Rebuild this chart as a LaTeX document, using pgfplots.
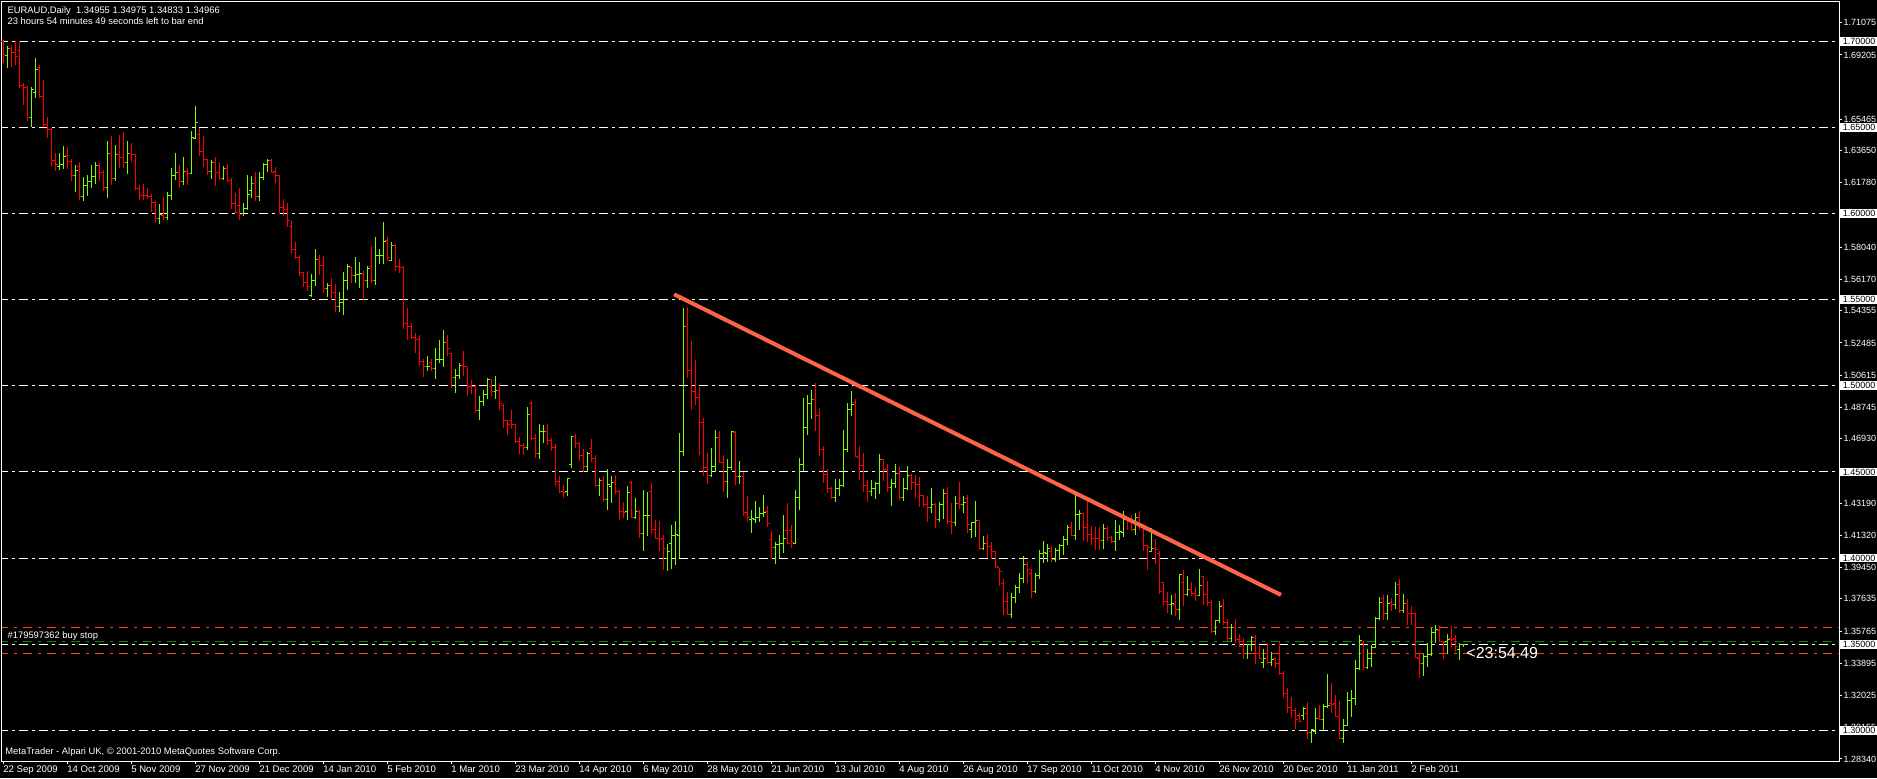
\documentclass[border=0pt]{standalone}
\usepackage{fontspec}
\setmainfont{Liberation Sans}
\usepackage{pgfplots}
\usepackage{pgfplotstable}
\pgfplotsset{compat=1.18}

\definecolor{mtgreen}{RGB}{124,252,0}
\definecolor{mtred}{RGB}{255,0,0}
\definecolor{mtorange}{RGB}{255,69,0}
\definecolor{mtdkgreen}{RGB}{0,140,0}
\definecolor{trend}{RGB}{255,99,71}

% open tick to the left, close tick to the right
\pgfdeclareplotmark{otick}{\pgfpathmoveto{\pgfqpoint{-1.1pt}{0pt}}\pgfpathlineto{\pgfqpoint{0pt}{0pt}}\pgfusepathqstroke}
\pgfdeclareplotmark{ctick}{\pgfpathmoveto{\pgfqpoint{0pt}{0pt}}\pgfpathlineto{\pgfqpoint{1.1pt}{0pt}}\pgfusepathqstroke}

\newcommand\smallfont{\fontsize{4.7}{5}\selectfont}

% EURAUD daily bars: index, open, high, low, close
\pgfplotstableread{
x o h l c
0 1.7000 1.7010 1.6874 1.6922
1 1.6918 1.6971 1.6845 1.6957
2 1.6957 1.6977 1.6851 1.6932
3 1.6932 1.7000 1.6864 1.6913
4 1.6946 1.7004 1.6729 1.6744
5 1.6744 1.6758 1.6632 1.6733
6 1.6733 1.6738 1.6539 1.6558
7 1.6558 1.6733 1.6500 1.6719
8 1.6703 1.6903 1.6670 1.6837
9 1.6849 1.6860 1.6670 1.6680
10 1.6680 1.6775 1.6500 1.6517
11 1.6517 1.6560 1.6438 1.6490
12 1.6490 1.6496 1.6277 1.6308
13 1.6308 1.6351 1.6248 1.6283
14 1.6273 1.6351 1.6254 1.6287
15 1.6287 1.6393 1.6260 1.6333
16 1.6337 1.6386 1.6258 1.6302
17 1.6302 1.6316 1.6190 1.6223
18 1.6223 1.6283 1.6124 1.6250
19 1.6273 1.6298 1.6079 1.6099
20 1.6099 1.6211 1.6074 1.6163
21 1.6163 1.6225 1.6103 1.6186
22 1.6186 1.6283 1.6147 1.6215
23 1.6215 1.6298 1.6170 1.6279
24 1.6279 1.6296 1.6190 1.6240
25 1.6240 1.6252 1.6132 1.6151
26 1.6151 1.6422 1.6089 1.6351
27 1.6351 1.6453 1.6163 1.6205
28 1.6201 1.6399 1.6186 1.6345
29 1.6345 1.6457 1.6264 1.6326
30 1.6326 1.6473 1.6264 1.6296
31 1.6296 1.6419 1.6231 1.6351
32 1.6351 1.6409 1.6302 1.6345
33 1.6345 1.6345 1.6138 1.6147
34 1.6147 1.6163 1.6079 1.6105
35 1.6105 1.6171 1.6079 1.6103
36 1.6105 1.6147 1.6085 1.6097
37 1.6097 1.6112 1.6008 1.6066
38 1.6066 1.6074 1.5953 1.5969
39 1.5969 1.6056 1.5940 1.5992
40 1.5986 1.6095 1.5963 1.5977
41 1.5977 1.6124 1.5963 1.6105
42 1.6105 1.6264 1.6079 1.6221
43 1.6221 1.6351 1.6196 1.6240
44 1.6240 1.6279 1.6147 1.6186
45 1.6186 1.6326 1.6163 1.6244
46 1.6244 1.6267 1.6167 1.6233
47 1.6233 1.6477 1.6231 1.6444
48 1.6438 1.6622 1.6434 1.6529
49 1.6461 1.6496 1.6335 1.6360
50 1.6360 1.6451 1.6269 1.6312
51 1.6312 1.6316 1.6225 1.6244
52 1.6244 1.6312 1.6201 1.6298
53 1.6298 1.6328 1.6161 1.6238
54 1.6238 1.6302 1.6196 1.6201
55 1.6201 1.6275 1.6192 1.6264
56 1.6264 1.6287 1.6182 1.6192
57 1.6192 1.6209 1.6025 1.6060
58 1.6060 1.6118 1.6002 1.6006
59 1.6047 1.6147 1.5963 1.5992
60 1.6002 1.6060 1.5983 1.6031
61 1.6031 1.6225 1.6021 1.6111
62 1.6136 1.6217 1.6091 1.6175
63 1.6175 1.6243 1.6074 1.6101
64 1.6097 1.6243 1.6074 1.6210
65 1.6210 1.6291 1.6194 1.6287
66 1.6287 1.6314 1.6243 1.6306
67 1.6306 1.6314 1.6233 1.6237
68 1.6243 1.6268 1.6179 1.6223
69 1.6223 1.6223 1.5995 1.6035
70 1.6035 1.6084 1.5987 1.6024
71 1.6024 1.6059 1.5923 1.5962
72 1.5923 1.5956 1.5768 1.5793
73 1.5793 1.5832 1.5739 1.5745
74 1.5745 1.5762 1.5639 1.5658
75 1.5658 1.5662 1.5575 1.5600
76 1.5600 1.5666 1.5549 1.5578
77 1.5526 1.5648 1.5516 1.5610
78 1.5610 1.5793 1.5580 1.5733
79 1.5733 1.5762 1.5642 1.5697
80 1.5697 1.5753 1.5536 1.5565
81 1.5565 1.5594 1.5516 1.5584
82 1.5584 1.5623 1.5497 1.5542
83 1.5542 1.5590 1.5426 1.5458
84 1.5458 1.5542 1.5426 1.5482
85 1.5482 1.5658 1.5410 1.5610
86 1.5610 1.5706 1.5555 1.5695
87 1.5687 1.5691 1.5594 1.5640
88 1.5640 1.5745 1.5594 1.5646
89 1.5646 1.5716 1.5565 1.5652
90 1.5648 1.5666 1.5497 1.5610
91 1.5610 1.5695 1.5569 1.5681
92 1.5691 1.5811 1.5598 1.5613
93 1.5613 1.5861 1.5588 1.5755
94 1.5755 1.5793 1.5706 1.5758
95 1.5755 1.5948 1.5706 1.5836
96 1.5842 1.5865 1.5726 1.5745
97 1.5729 1.5832 1.5726 1.5815
98 1.5815 1.5822 1.5667 1.5691
99 1.5691 1.5739 1.5652 1.5689
100 1.5689 1.5697 1.5329 1.5362
101 1.5362 1.5449 1.5265 1.5342
102 1.5342 1.5362 1.5271 1.5278
103 1.5278 1.5309 1.5191 1.5271
104 1.5271 1.5294 1.5114 1.5143
105 1.5143 1.5158 1.5052 1.5110
106 1.5110 1.5172 1.5087 1.5114
107 1.5133 1.5158 1.5087 1.5100
108 1.5100 1.5222 1.5042 1.5153
109 1.5153 1.5265 1.5133 1.5155
110 1.5155 1.5323 1.5110 1.5249
111 1.5249 1.5294 1.5174 1.5216
112 1.5187 1.5191 1.4988 1.5048
113 1.5048 1.5096 1.4959 1.5058
114 1.5058 1.5135 1.5042 1.5116
115 1.5116 1.5201 1.5056 1.5110
116 1.5110 1.5110 1.4940 1.4998
117 1.4998 1.5033 1.4955 1.4994
118 1.4994 1.5007 1.4843 1.4854
119 1.4854 1.4940 1.4800 1.4907
120 1.4907 1.4974 1.4881 1.4949
121 1.4949 1.5046 1.4922 1.5038
122 1.4994 1.5042 1.4940 1.4969
123 1.4969 1.5056 1.4922 1.4974
124 1.4974 1.5017 1.4858 1.4897
125 1.4886 1.4897 1.4756 1.4798
126 1.4798 1.4804 1.4717 1.4775
127 1.4798 1.4857 1.4752 1.4773
128 1.4773 1.4781 1.4669 1.4674
129 1.4674 1.4700 1.4607 1.4655
130 1.4655 1.4669 1.4597 1.4643
131 1.4643 1.4876 1.4626 1.4833
132 1.4897 1.4909 1.4688 1.4692
133 1.4692 1.4723 1.4580 1.4607
134 1.4607 1.4777 1.4578 1.4732
135 1.4732 1.4773 1.4669 1.4736
136 1.4732 1.4781 1.4655 1.4684
137 1.4684 1.4696 1.4620 1.4642
138 1.4642 1.4665 1.4417 1.4444
139 1.4444 1.4479 1.4378 1.4386
140 1.4386 1.4426 1.4349 1.4382
141 1.4386 1.4465 1.4362 1.4461
142 1.4546 1.4711 1.4521 1.4707
143 1.4707 1.4723 1.4639 1.4663
144 1.4663 1.4674 1.4562 1.4593
145 1.4593 1.4636 1.4500 1.4529
146 1.4529 1.4616 1.4500 1.4607
147 1.4634 1.4694 1.4556 1.4577
148 1.4577 1.4601 1.4413 1.4421
149 1.4421 1.4465 1.4362 1.4448
150 1.4448 1.4475 1.4324 1.4339
151 1.4339 1.4519 1.4277 1.4426
152 1.4417 1.4479 1.4320 1.4440
153 1.4440 1.4485 1.4374 1.4388
154 1.4388 1.4397 1.4219 1.4268
155 1.4268 1.4324 1.4233 1.4264
156 1.4268 1.4421 1.4223 1.4378
157 1.4440 1.4446 1.4231 1.4233
158 1.4233 1.4349 1.4227 1.4271
159 1.4271 1.4281 1.4116 1.4140
160 1.4140 1.4397 1.4040 1.4246
161 1.4246 1.4386 1.4126 1.4250
162 1.4386 1.4436 1.4141 1.4165
163 1.4165 1.4223 1.4111 1.4116
164 1.4116 1.4213 1.4040 1.4110
165 1.4116 1.4136 1.3930 1.4058
166 1.4000 1.4080 1.3925 1.4040
167 1.4087 1.4194 1.3935 1.4130
168 1.4130 1.4213 1.3960 1.4135
169 1.4130 1.4727 1.4000 1.4616
170 1.4616 1.5450 1.4591 1.5343
171 1.5343 1.5459 1.5043 1.5091
172 1.5091 1.5258 1.4859 1.4965
173 1.4965 1.5147 1.4891 1.4932
174 1.4932 1.4992 1.4597 1.4785
175 1.4785 1.4814 1.4475 1.4523
176 1.4523 1.4610 1.4432 1.4481
177 1.4481 1.4641 1.4471 1.4529
178 1.4529 1.4742 1.4498 1.4698
179 1.4698 1.4735 1.4552 1.4554
180 1.4554 1.4597 1.4382 1.4442
181 1.4442 1.4577 1.4347 1.4523
182 1.4523 1.4740 1.4514 1.4736
183 1.4727 1.4735 1.4423 1.4471
184 1.4471 1.4566 1.4430 1.4475
185 1.4475 1.4500 1.4242 1.4265
186 1.4265 1.4362 1.4207 1.4233
187 1.4226 1.4280 1.4148 1.4230
188 1.4226 1.4332 1.4206 1.4235
189 1.4235 1.4299 1.4212 1.4260
190 1.4260 1.4367 1.4241 1.4266
191 1.4270 1.4303 1.4179 1.4198
192 1.4109 1.4158 1.3999 1.4061
193 1.4061 1.4092 1.3964 1.4077
194 1.4077 1.4135 1.3999 1.4086
195 1.4086 1.4251 1.4032 1.4115
196 1.4158 1.4322 1.4080 1.4086
197 1.4160 1.4193 1.4057 1.4090
198 1.4086 1.4396 1.4080 1.4351
199 1.4351 1.4580 1.4280 1.4545
200 1.4545 1.4932 1.4508 1.4760
201 1.4760 1.4948 1.4712 1.4899
202 1.4899 1.4977 1.4806 1.4919
203 1.4923 1.5016 1.4735 1.4826
204 1.4826 1.4870 1.4590 1.4628
205 1.4628 1.4651 1.4435 1.4483
206 1.4483 1.4518 1.4380 1.4406
207 1.4406 1.4411 1.4342 1.4353
208 1.4353 1.4460 1.4328 1.4402
209 1.4402 1.4460 1.4363 1.4419
210 1.4419 1.4744 1.4415 1.4632
211 1.4632 1.4903 1.4618 1.4861
212 1.4861 1.4971 1.4822 1.4890
213 1.4903 1.4923 1.4586 1.4590
214 1.4586 1.4648 1.4454 1.4539
215 1.4539 1.4609 1.4382 1.4423
216 1.4423 1.4454 1.4328 1.4386
217 1.4386 1.4454 1.4361 1.4404
218 1.4404 1.4439 1.4342 1.4431
219 1.4431 1.4605 1.4373 1.4574
220 1.4574 1.4576 1.4448 1.4516
221 1.4516 1.4545 1.4382 1.4411
222 1.4411 1.4460 1.4305 1.4435
223 1.4435 1.4545 1.4409 1.4489
224 1.4489 1.4526 1.4338 1.4353
225 1.4353 1.4464 1.4332 1.4402
226 1.4402 1.4535 1.4400 1.4477
227 1.4477 1.4487 1.4396 1.4439
228 1.4439 1.4483 1.4348 1.4429
229 1.4429 1.4473 1.4295 1.4361
230 1.4361 1.4367 1.4299 1.4309
231 1.4309 1.4361 1.4212 1.4293
232 1.4293 1.4409 1.4264 1.4309
233 1.4309 1.4322 1.4177 1.4222
234 1.4222 1.4328 1.4212 1.4309
235 1.4309 1.4402 1.4226 1.4373
236 1.4373 1.4411 1.4197 1.4212
237 1.4212 1.4322 1.4141 1.4206
238 1.4206 1.4361 1.4187 1.4315
239 1.4315 1.4441 1.4284 1.4309
240 1.4309 1.4361 1.4264 1.4322
241 1.4348 1.4367 1.4144 1.4193
242 1.4168 1.4208 1.4115 1.4206
243 1.4206 1.4332 1.4125 1.4216
244 1.4216 1.4222 1.4048 1.4053
245 1.4053 1.4131 1.4048 1.4082
246 1.4082 1.4140 1.3999 1.4067
247 1.4067 1.4092 1.3995 1.4038
248 1.4038 1.4042 1.3945 1.3951
249 1.3945 1.3945 1.3835 1.3922
250 1.3851 1.3878 1.3670 1.3748
251 1.3748 1.3802 1.3670 1.3674
252 1.3674 1.3797 1.3655 1.3773
253 1.3773 1.3845 1.3742 1.3831
254 1.3831 1.3913 1.3800 1.3880
255 1.3880 1.4013 1.3855 1.3965
256 1.3965 1.3977 1.3858 1.3932
257 1.3909 1.3938 1.3771 1.3806
258 1.3806 1.3913 1.3800 1.3899
259 1.3899 1.4048 1.3880 1.4029
260 1.4029 1.4101 1.3971 1.4035
261 1.4029 1.4081 1.3977 1.4058
262 1.4039 1.4068 1.3977 1.3994
263 1.3994 1.4058 1.3975 1.4043
264 1.4043 1.4081 1.3990 1.4072
265 1.4072 1.4130 1.4019 1.4110
266 1.4110 1.4194 1.4074 1.4178
267 1.4178 1.4211 1.4126 1.4130
268 1.4130 1.4372 1.4107 1.4252
269 1.4252 1.4281 1.4165 1.4258
270 1.4258 1.4262 1.4101 1.4180
271 1.4180 1.4330 1.4093 1.4139
272 1.4139 1.4188 1.4074 1.4116
273 1.4116 1.4180 1.4045 1.4112
274 1.4116 1.4180 1.4048 1.4103
275 1.4103 1.4200 1.4052 1.4169
276 1.4174 1.4184 1.4097 1.4120
277 1.4120 1.4130 1.4087 1.4097
278 1.4097 1.4223 1.4043 1.4151
279 1.4151 1.4194 1.4107 1.4156
280 1.4151 1.4275 1.4120 1.4223
281 1.4223 1.4233 1.4165 1.4218
282 1.4223 1.4252 1.4155 1.4165
283 1.4165 1.4262 1.4136 1.4238
284 1.4238 1.4271 1.4165 1.4184
285 1.4184 1.4200 1.4043 1.4074
286 1.4074 1.4077 1.3928 1.4064
287 1.4039 1.4174 1.4033 1.4058
288 1.4058 1.4112 1.3967 1.4048
289 1.4029 1.4039 1.3793 1.3806
290 1.3858 1.3860 1.3719 1.3748
291 1.3748 1.3802 1.3680 1.3733
292 1.3733 1.3787 1.3670 1.3738
293 1.3733 1.3797 1.3661 1.3700
294 1.3700 1.3909 1.3641 1.3903
295 1.3860 1.3932 1.3719 1.3787
296 1.3787 1.3897 1.3777 1.3816
297 1.3816 1.3860 1.3777 1.3797
298 1.3797 1.3835 1.3752 1.3783
299 1.3783 1.3938 1.3777 1.3839
300 1.3893 1.3897 1.3729 1.3791
301 1.3791 1.3868 1.3719 1.3744
302 1.3744 1.3758 1.3564 1.3574
303 1.3574 1.3641 1.3554 1.3638
304 1.3638 1.3752 1.3626 1.3719
305 1.3725 1.3764 1.3609 1.3628
306 1.3628 1.3647 1.3519 1.3535
307 1.3535 1.3618 1.3515 1.3599
308 1.3599 1.3647 1.3506 1.3529
309 1.3529 1.3560 1.3482 1.3486
310 1.3515 1.3535 1.3415 1.3448
311 1.3448 1.3500 1.3415 1.3496
312 1.3496 1.3550 1.3463 1.3539
313 1.3539 1.3554 1.3384 1.3448
314 1.3448 1.3490 1.3413 1.3419
315 1.3395 1.3471 1.3364 1.3419
316 1.3444 1.3506 1.3384 1.3395
317 1.3395 1.3453 1.3374 1.3409
318 1.3415 1.3422 1.3364 1.3386
319 1.3386 1.3515 1.3322 1.3328
320 1.3328 1.3345 1.3186 1.3211
321 1.3211 1.3248 1.3103 1.3132
322 1.3132 1.3192 1.3074 1.3114
323 1.3114 1.3128 1.3006 1.3064
324 1.3089 1.3099 1.3047 1.3054
325 1.3089 1.3138 1.3060 1.3128
326 1.3099 1.3163 1.2950 1.2988
327 1.2988 1.3006 1.2924 1.3002
328 1.2992 1.3128 1.2977 1.3070
329 1.3070 1.3147 1.3060 1.3064
330 1.3064 1.3153 1.3002 1.3138
331 1.3138 1.3326 1.3128 1.3143
332 1.3153 1.3273 1.3099 1.3148
333 1.3153 1.3205 1.3079 1.3082
334 1.3079 1.3170 1.2948 1.2953
335 1.2953 1.3066 1.2928 1.3031
336 1.3031 1.3221 1.3027 1.3176
337 1.3176 1.3234 1.3079 1.3182
338 1.3182 1.3409 1.3147 1.3360
339 1.3360 1.3554 1.3351 1.3519
340 1.3506 1.3519 1.3351 1.3364
341 1.3364 1.3471 1.3360 1.3415
342 1.3415 1.3496 1.3370 1.3483
343 1.3483 1.3657 1.3480 1.3651
344 1.3651 1.3773 1.3641 1.3744
345 1.3764 1.3787 1.3638 1.3680
346 1.3680 1.3783 1.3641 1.3738
347 1.3742 1.3771 1.3690 1.3729
348 1.3729 1.3860 1.3705 1.3787
349 1.3845 1.3878 1.3684 1.3696
350 1.3696 1.3793 1.3684 1.3738
351 1.3738 1.3764 1.3612 1.3680
352 1.3680 1.3719 1.3612 1.3676
353 1.3676 1.3680 1.3419 1.3425
354 1.3419 1.3448 1.3302 1.3390
355 1.3390 1.3444 1.3316 1.3428
356 1.3428 1.3506 1.3370 1.3438
357 1.3438 1.3593 1.3434 1.3570
358 1.3570 1.3612 1.3506 1.3583
359 1.3577 1.3603 1.3510 1.3515
360 1.3515 1.3521 1.3413 1.3510
361 1.3515 1.3560 1.3442 1.3525
362 1.3531 1.3603 1.3483 1.3526
363 1.3531 1.3554 1.3457 1.3486
364 1.3467 1.3506 1.3409 1.3496
365 1.34955 1.34975 1.34833 1.34966
}\bars

\begin{document}
\begin{tikzpicture}
\path[use as bounding box, fill=black] (0,0) rectangle (938.5pt,389pt);

\begin{axis}[
    at={(1pt,8.5pt)}, anchor=south west,
    scale only axis, width=918.5pt, height=379.5pt,
    xmin=-0.325, xmax=458.9, ymin=1.2822, ymax=1.7228,
    clip mode=individual,
    axis line style={white, line width=0.5pt},
    tick align=outside, major tick length=1.5pt,
    tick style={white, line width=0.5pt},
    xtick pos=left, ytick pos=right, yticklabel pos=right,
    xtick={0,16,...,352},
    xticklabels={22 Sep 2009,14 Oct 2009,5 Nov 2009,27 Nov 2009,21 Dec 2009,14 Jan 2010,5 Feb 2010,1 Mar 2010,23 Mar 2010,14 Apr 2010,6 May 2010,28 May 2010,21 Jun 2010,13 Jul 2010,4 Aug 2010,26 Aug 2010,17 Sep 2010,11 Oct 2010,4 Nov 2010,26 Nov 2010,20 Dec 2010,11 Jan 2011,2 Feb 2011},
    xticklabel style={font=\fontsize{4.8}{5}\selectfont, text=white, anchor=north west, inner sep=0pt, xshift=-0.2pt, yshift=-0.6pt},
    ytick={1.28340,1.30155,1.32025,1.33895,1.35765,1.37635,1.39450,1.41320,1.43190,1.46930,1.48745,1.50615,1.52485,1.54355,1.56170,1.58040,1.61780,1.63650,1.65465,1.69205,1.71075},
    yticklabels={1.28340,1.30155,1.32025,1.33895,1.35765,1.37635,1.39450,1.41320,1.43190,1.46930,1.48745,1.50615,1.52485,1.54355,1.56170,1.58040,1.61780,1.63650,1.65465,1.69205,1.71075},
    yticklabel style={font=\fontsize{4.5}{5}\selectfont, text=white, anchor=west, inner sep=0pt, xshift=0.6pt},
    extra y ticks={1.30,1.35,1.40,1.45,1.50,1.55,1.60,1.65,1.70},
    extra y tick labels={1.30000,1.35000,1.40000,1.45000,1.50000,1.55000,1.60000,1.65000,1.70000},
    extra y tick style={yticklabel style={fill=white, text=black, inner xsep=2pt, inner ysep=0.6pt, xshift=-2.4pt}},
  ]

  % grid levels
  \pgfplotsinvokeforeach{1.30,1.35,1.40,1.45,1.50,1.55,1.60,1.65,1.70}{
    \addplot[white, line width=0.5pt, dash pattern=on 4.5pt off 2pt on 1.5pt off 2pt, forget plot]
      coordinates {(-1,#1) (460,#1)};
  }
  % order levels
  \addplot[mtorange, line width=0.5pt, dash pattern=on 4.5pt off 3pt on 1.5pt off 3pt, forget plot]
    coordinates {(-1,1.3599) (460,1.3599)};
  \addplot[mtorange, line width=0.5pt, dash pattern=on 4.5pt off 3pt on 1.5pt off 3pt, forget plot]
    coordinates {(-1,1.3447) (460,1.3447)};
  \addplot[mtdkgreen, line width=0.5pt, dash pattern=on 4.5pt off 3pt on 1.5pt off 3pt, forget plot]
    coordinates {(-1,1.3517) (460,1.3517)};

  % up bars: high-low line and open tick, then close tick
  \addplot[mtgreen, only marks, mark=otick, mark options={line width=0.5pt},
    error bars/.cd, y dir=both, y explicit, error mark=none,
    error bar style={mtgreen, line width=0.5pt, solid}]
    table[x=x, y expr={\thisrow{c}>=\thisrow{o} ? \thisrow{o} : nan},
      y error plus expr={\thisrow{h}-\thisrow{o}}, y error minus expr={\thisrow{o}-\thisrow{l}}] {\bars};
  \addplot[mtgreen, only marks, mark=ctick, mark options={line width=0.5pt}]
    table[x=x, y expr={\thisrow{c}>=\thisrow{o} ? \thisrow{c} : nan}] {\bars};
  % down bars
  \addplot[mtred, only marks, mark=otick, mark options={line width=0.5pt},
    error bars/.cd, y dir=both, y explicit, error mark=none,
    error bar style={mtred, line width=0.5pt, solid}]
    table[x=x, y expr={\thisrow{c}<\thisrow{o} ? \thisrow{o} : nan},
      y error plus expr={\thisrow{h}-\thisrow{o}}, y error minus expr={\thisrow{o}-\thisrow{l}}] {\bars};
  \addplot[mtred, only marks, mark=ctick, mark options={line width=0.5pt}]
    table[x=x, y expr={\thisrow{c}<\thisrow{o} ? \thisrow{c} : nan}] {\bars};

  % trend line
  \addplot[trend, line width=2pt] coordinates {(167.7,1.5531) (319.4,1.3786)};
\end{axis}

% chart texts
\node[anchor=west, text=white, font=\smallfont, inner sep=0pt] at (3.6pt,383.5pt)
  {EURAUD,Daily\ \ 1.34955 1.34975 1.34833 1.34966};
\node[anchor=west, text=white, font=\smallfont, inner sep=0pt] at (3.6pt,378.5pt)
  {23 hours 54 minutes 49 seconds left to bar end};
\node[anchor=west, text=white, font=\smallfont, inner sep=0pt] at (3.6pt,71pt)
  {\#179597362 buy stop};
\node[anchor=west, text=white, font=\smallfont, inner sep=0pt] at (2.5pt,13pt)
  {MetaTrader - Alpari UK, © 2001-2010 MetaQuotes Software Corp.};
\node[anchor=west, text=white, font=\fontsize{8}{9}\selectfont, inner sep=0pt] at (733pt,62.5pt)
  {<23:54.49};
\end{tikzpicture}
\end{document}
